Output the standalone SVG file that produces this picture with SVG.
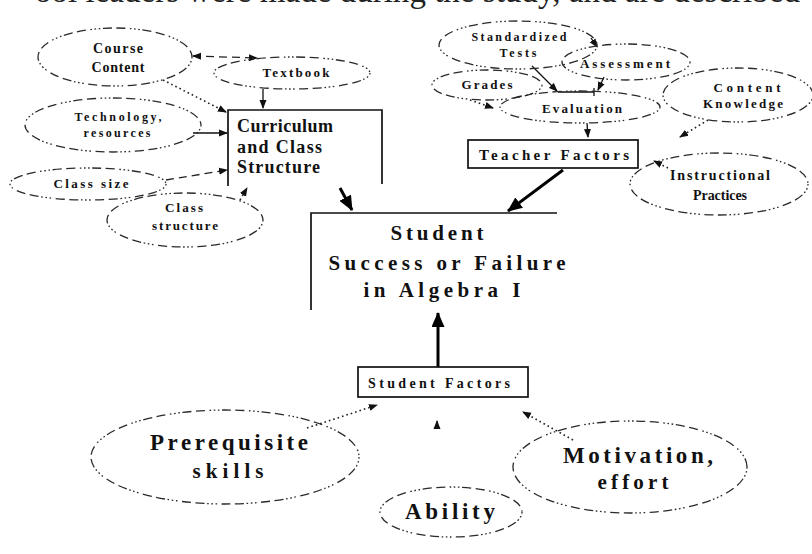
<svg xmlns="http://www.w3.org/2000/svg" width="812" height="554" viewBox="0 0 812 554">
<style>
  .el{fill:none;stroke:#2a2a2a;stroke-width:1.3;stroke-dasharray:1.6 2.6 1.6 2.6 1.6 2.6 9 4.5 9 4.5}
  .box{fill:none;stroke:#111;stroke-width:1.7}
  text{font-family:"Liberation Serif","Times New Roman",serif;font-weight:bold;fill:#111;text-anchor:middle}
  .l{text-anchor:start}
  .s12{font-size:12px}
  .s13{font-size:13px}
  .s14{font-size:14px}
  .s15{font-size:15px}
  .s18{font-size:18px}
  .s21{font-size:21px}
  .s23{font-size:23px}
  .solid{stroke:#111;stroke-width:1.3;fill:none}
  .dash{stroke:#222;stroke-width:1.3;fill:none;stroke-dasharray:8 5}
  .dot{stroke:#222;stroke-width:1.6;fill:none;stroke-dasharray:1.6 3}
  .thick{stroke:#000;stroke-width:3;fill:none}
  .top{font-family:"Liberation Serif","Times New Roman",serif;font-weight:normal;font-size:33px;fill:#222;text-anchor:start}
</style>
<defs>
  <marker id="ah" markerWidth="9" markerHeight="8" refX="8" refY="4" orient="auto-start-reverse" markerUnits="userSpaceOnUse">
    <path d="M0,0.5 L9,4 L0,7.5 Z" fill="#111"/>
  </marker>
  <marker id="big" markerWidth="15" markerHeight="13" refX="14" refY="6.5" orient="auto" markerUnits="userSpaceOnUse">
    <path d="M0,0 L15,6.5 L0,13 Z" fill="#000"/>
  </marker>
</defs>
<rect width="812" height="554" fill="#fff"/>
<text class="top" x="35" y="1.5" textLength="765" lengthAdjust="spacingAndGlyphs">ool leaders were made during the study, and are described</text>

<g id="connectors">
  <path class="dash" d="M193,56 L257,58" marker-start="url(#ah)" marker-end="url(#ah)"/>
  <path class="solid" d="M263,89 L263,108" marker-end="url(#ah)"/>
  <path class="dot" d="M163,80 L226,112" marker-end="url(#ah)"/>
  <path class="solid" d="M193,133 L227,133" marker-end="url(#ah)"/>
  <path class="dash" d="M166,180 L227,170" marker-end="url(#ah)"/>
  <path class="dot" d="M240,200 L247,188" marker-end="url(#ah)"/>
  <path class="thick" d="M340,188 L352,210" marker-end="url(#big)"/>
  <path class="thick" d="M563,170 L508,211" marker-end="url(#big)"/>
  <path class="solid" d="M587,123 L588,137" marker-end="url(#ah)"/>
  <path class="solid" d="M532,66 L557,91" marker-end="url(#ah)"/>
  <path class="solid" d="M558,92 L594,92 M594,88 L594,96"/>
  <path class="solid" d="M591,38 L597,47" marker-end="url(#ah)"/>
  <path class="solid" d="M604,77 L598,90" marker-end="url(#ah)"/>
  <path class="dot" d="M470,100 L493,108" marker-end="url(#ah)"/>
  <path class="dot" d="M708,120 L680,137" marker-end="url(#ah)"/>
  <path class="dot" d="M668,168 L654,161" marker-end="url(#ah)"/>
  <path class="thick" d="M438,367 L438,313" marker-end="url(#big)"/>
  <path class="dot" d="M307,428 L377,405" marker-end="url(#ah)"/>
  <path class="solid" d="M437,428 L437,421" marker-end="url(#ah)"/>
  <path class="dot" d="M573,440 L523,412" marker-end="url(#ah)"/>
</g>

<g id="course-content">
  <ellipse class="el" cx="115" cy="57" rx="77" ry="29"/>
  <text class="s14" x="118" y="53" textLength="50">Course</text>
  <text class="s14" x="118" y="72" textLength="53">Content</text>
</g>
<g id="textbook">
  <ellipse class="el" cx="292" cy="73" rx="78" ry="16"/>
  <text class="s13" x="296" y="77" textLength="67">Textbook</text>
</g>
<g id="technology">
  <ellipse class="el" cx="113" cy="125" rx="88" ry="27"/>
  <text class="s12" x="118" y="121" textLength="87">Technology,</text>
  <text class="s12" x="117" y="137" textLength="67">resources</text>
</g>
<g id="class-size">
  <ellipse class="el" cx="88" cy="184" rx="78" ry="16"/>
  <text class="s13" x="91" y="188" textLength="75">Class size</text>
</g>
<g id="class-structure">
  <ellipse class="el" cx="185" cy="220" rx="78" ry="27"/>
  <text class="s13" x="184" y="212" textLength="38">Class</text>
  <text class="s13" x="185" y="230" textLength="66">structure</text>
</g>
<g id="curriculum">
  <path class="box" d="M228,186 V110 H382 V184"/>
  <text class="s18 l" x="237" y="132" textLength="96">Curriculum</text>
  <text class="s18 l" x="237" y="153" textLength="85">and Class</text>
  <text class="s18 l" x="237" y="173" textLength="83">Structure</text>
</g>

<g id="standardized-tests">
  <ellipse class="el" cx="518" cy="45" rx="79" ry="24"/>
  <text class="s12" x="519" y="41" textLength="95">Standardized</text>
  <text class="s12" x="518" y="57" textLength="37">Tests</text>
</g>
<g id="assessment">
  <ellipse class="el" cx="626" cy="62" rx="64" ry="18"/>
  <text class="s13" x="625" y="68" textLength="90">Assessment</text>
</g>
<g id="grades">
  <ellipse class="el" cx="487" cy="85" rx="55" ry="15"/>
  <text class="s13" x="487" y="89" textLength="51">Grades</text>
</g>
<g id="evaluation">
  <ellipse class="el" cx="580" cy="107" rx="80" ry="16"/>
  <text class="s13" x="582" y="113" textLength="80">Evaluation</text>
</g>
<g id="content-knowledge">
  <ellipse class="el" cx="738" cy="95" rx="75" ry="27"/>
  <text class="s13" x="747" y="92" textLength="67">Content</text>
  <text class="s13" x="743" y="108" textLength="80">Knowledge</text>
</g>
<g id="instructional-practices">
  <ellipse class="el" cx="719" cy="184" rx="89" ry="31"/>
  <text class="s14" x="720" y="180" textLength="100">Instructional</text>
  <text class="s14" x="720" y="200" textLength="54">Practices</text>
</g>
<g id="teacher-factors">
  <rect class="box" x="468" y="140" width="170" height="28"/>
  <text class="s15" x="554" y="160" textLength="150">Teacher Factors</text>
</g>

<g id="student-success">
  <path class="box" d="M311,310 V213 H557"/>
  <text class="s21" x="437" y="240" textLength="93">Student</text>
  <text class="s21" x="447" y="270" textLength="237">Success or Failure</text>
  <text class="s21" x="442" y="297" textLength="157">in Algebra I</text>
</g>
<g id="student-factors">
  <rect class="box" x="358" y="367" width="170" height="30"/>
  <text class="s14" x="439" y="388" textLength="142">Student Factors</text>
</g>
<g id="prerequisite-skills">
  <ellipse class="el" cx="225" cy="457" rx="134" ry="47"/>
  <text class="s23" x="229" y="450" textLength="158">Prerequisite</text>
  <text class="s21" x="228" y="478" textLength="71">skills</text>
</g>
<g id="motivation-effort">
  <ellipse class="el" cx="630" cy="467" rx="117" ry="46"/>
  <text class="s23" x="638" y="463" textLength="150">Motivation,</text>
  <text class="s21" x="633" y="489" textLength="71">effort</text>
</g>
<g id="ability">
  <ellipse class="el" cx="451" cy="512" rx="71" ry="25"/>
  <text class="s23" x="450" y="519" textLength="90">Ability</text>
</g>
</svg>
